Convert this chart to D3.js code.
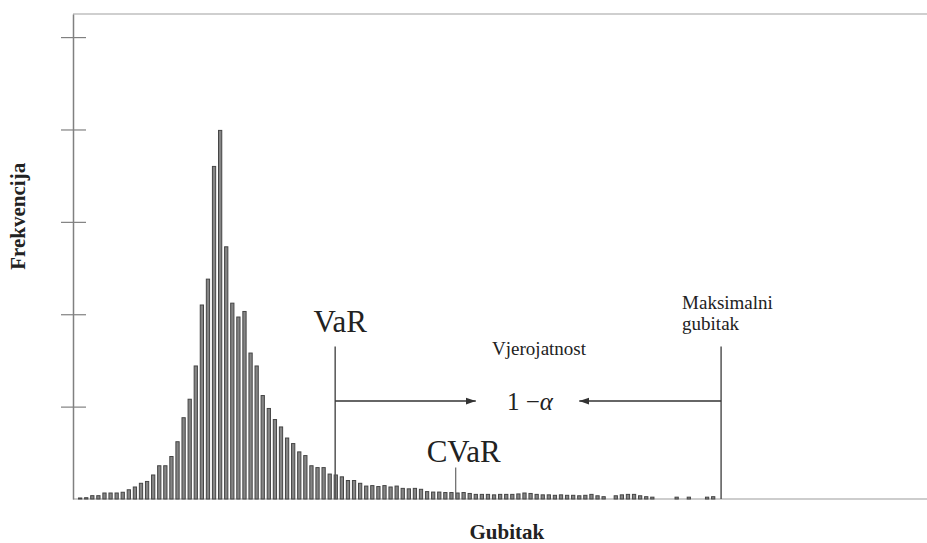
<!DOCTYPE html>
<html>
<head>
<meta charset="utf-8">
<script src="https://cdn.jsdelivr.net/npm/d3@7/dist/d3.min.js"></script>
<style>
  html, body { margin: 0; padding: 0; background: #fff; }
  .chart-text { font-family: "Liberation Serif", "Times New Roman", serif; fill: #222; }
</style>
</head>
<body>
<div id="loss-histogram"></div>
<script>
// histogram bins (loss classes), left to right
const bins = d3.range(106);

// frequency per bin
const frequency = [
  1.1, 1.4, 3.6, 3.6, 6.5, 6.5, 6.5, 7.3, 10, 13,
  17, 19, 26, 36, 36, 46, 62, 88, 108, 144,
  210, 238, 360, 399, 273, 212, 197, 203, 158, 144,
  112, 98, 86, 78, 66, 60, 51, 47, 36, 34,
  34, 27, 26, 24, 20, 20, 17, 14, 14.5, 13.5,
  14.5, 13, 14, 11.5, 11, 11.5, 10.5, 8, 7.5, 7.5,
  7, 7, 6.5, 7, 6, 5, 5, 5, 4.5, 5,
  5, 5, 5.5, 6.5, 6, 5, 4.5, 4.5, 4, 4.5,
  4, 4, 3.5, 4, 5, 3.5, 2.5, 0, 3.5, 4.5,
  5, 5, 3.5, 2.5, 2, 0, 0, 0, 2, 0,
  2, 0, 0, 2, 2.5, 0
];

const yTicks = [100, 200, 300, 400, 500];
const yMax = 525;

// annotation positions, in bin units / frequency units
const varBin = 41.9;
const cvarBin = 61.7;
const maxBin = 105.3;
const markerTop = 165;
const arrowLevel = 106;
const cvarTop = 34;

const xTitle = "Gubitak";
const yTitle = "Frekvencija";
const probLabel = "Vjerojatnost";
const maxLabel = ["Maksimalni", "gubitak"];

(function () {
  const totalWidth = 927;
  const totalHeight = 543;
  const margin = { top: 14, right: 0, bottom: 44, left: 73 };
  const width = totalWidth - margin.left - margin.right;
  const height = totalHeight - margin.top - margin.bottom;

  const svg = d3
    .select("#loss-histogram")
    .append("svg")
    .attr("width", totalWidth)
    .attr("height", totalHeight)
    .append("g")
    .attr("transform", `translate(${margin.left},${margin.top})`);

  // scales
  const x = d3.scaleBand().domain(bins).range([5, 648.4]).paddingInner(0.3).paddingOuter(0);
  const y = d3.scaleLinear().domain([0, yMax]).range([height, 0]);

  // centre of a (possibly fractional) bin
  const xc = (b) => x(0) + x.step() * b + x.bandwidth() / 2;

  // arrow heads
  const defs = svg.append("defs");
  defs
    .append("marker")
    .attr("id", "arrow-head")
    .attr("viewBox", "0 -4 10 8")
    .attr("refX", 10)
    .attr("refY", 0)
    .attr("markerUnits", "userSpaceOnUse")
    .attr("markerWidth", 10)
    .attr("markerHeight", 8)
    .attr("orient", "auto")
    .append("path")
    .attr("d", "M0,-3.5L10,0L0,3.5Z")
    .attr("fill", "#333");

  // top frame line
  svg
    .append("line")
    .attr("x1", 0)
    .attr("x2", width)
    .attr("y1", y(yMax))
    .attr("y2", y(yMax))
    .attr("stroke", "#cfcfcf")
    .attr("stroke-width", 2);

  // baseline
  svg
    .append("line")
    .attr("x1", 0)
    .attr("x2", width)
    .attr("y1", y(0))
    .attr("y2", y(0))
    .attr("stroke", "#bdbdbd")
    .attr("stroke-width", 1.5);

  // bars
  svg
    .selectAll(".bar")
    .data(frequency)
    .enter()
    .append("rect")
    .attr("class", "bar")
    .attr("x", (d, i) => x(i) + 0.5)
    .attr("y", (d) => y(d))
    .attr("width", x.bandwidth() - 1)
    .attr("height", (d) => y(0) - y(d))
    .attr("fill", "#858585")
    .attr("stroke", "#454545")
    .attr("stroke-width", 1);

  // y axis, ticks cross the axis line
  const yAxisGroup = svg
    .append("g")
    .call(d3.axisLeft(y).tickValues(yTicks).tickFormat("").tickSizeInner(12).tickSizeOuter(0));
  yAxisGroup.select(".domain").attr("stroke", "#808080").attr("stroke-width", 1.5);
  yAxisGroup.selectAll(".tick line").attr("x1", 13).attr("stroke", "#808080").attr("stroke-width", 1.2);

  // axis titles
  svg
    .append("text")
    .attr("class", "chart-text")
    .attr("x", xc(70.1))
    .attr("y", height + 40)
    .attr("text-anchor", "middle")
    .style("font-size", "21px")
    .style("font-weight", "bold")
    .text(xTitle);

  svg
    .append("text")
    .attr("class", "chart-text")
    .attr("transform", `translate(${-48},${y(306)}) rotate(-90)`)
    .attr("text-anchor", "middle")
    .style("font-size", "21px")
    .style("font-weight", "bold")
    .text(yTitle);

  // VaR / max-loss verticals
  [varBin, maxBin].forEach((b) => {
    svg
      .append("line")
      .attr("x1", xc(b))
      .attr("x2", xc(b))
      .attr("y1", y(markerTop))
      .attr("y2", y(0))
      .attr("stroke", "#555")
      .attr("stroke-width", 1.5);
  });

  // CVaR marker
  svg
    .append("line")
    .attr("x1", xc(cvarBin))
    .attr("x2", xc(cvarBin))
    .attr("y1", y(cvarTop))
    .attr("y2", y(0))
    .attr("stroke", "#666")
    .attr("stroke-width", 1.2);

  // arrows towards 1 - alpha
  svg
    .append("line")
    .attr("x1", xc(varBin))
    .attr("x2", xc(65))
    .attr("y1", y(arrowLevel))
    .attr("y2", y(arrowLevel))
    .attr("stroke", "#333")
    .attr("stroke-width", 1.5)
    .attr("marker-end", "url(#arrow-head)");

  svg
    .append("line")
    .attr("x1", xc(maxBin))
    .attr("x2", xc(82))
    .attr("y1", y(arrowLevel))
    .attr("y2", y(arrowLevel))
    .attr("stroke", "#333")
    .attr("stroke-width", 1.5)
    .attr("marker-end", "url(#arrow-head)");

  // labels
  svg
    .append("text")
    .attr("class", "chart-text")
    .attr("x", xc(varBin) + 5)
    .attr("y", y(markerTop) - 15)
    .attr("text-anchor", "middle")
    .style("font-size", "31px")
    .text("VaR");

  svg
    .append("text")
    .attr("class", "chart-text")
    .attr("x", xc(cvarBin) + 8)
    .attr("y", y(cvarTop) - 6)
    .attr("text-anchor", "middle")
    .style("font-size", "31px")
    .text("CVaR");

  svg
    .append("text")
    .attr("class", "chart-text")
    .attr("x", xc(75.4))
    .attr("y", y(markerTop) + 8)
    .attr("text-anchor", "middle")
    .style("font-size", "19px")
    .text(probLabel);

  const alphaText = svg
    .append("text")
    .attr("class", "chart-text")
    .attr("x", xc(73.9))
    .attr("y", y(arrowLevel) + 9)
    .attr("text-anchor", "middle")
    .style("font-size", "25px");
  alphaText.append("tspan").text("1 \u2212");
  alphaText.append("tspan").style("font-style", "italic").text("\u03b1");

  svg
    .append("text")
    .attr("class", "chart-text")
    .attr("x", xc(maxBin) - 39)
    .attr("y", y(markerTop) - 38)
    .style("font-size", "19px")
    .selectAll("tspan")
    .data(maxLabel)
    .enter()
    .append("tspan")
    .attr("x", xc(maxBin) - 39)
    .attr("dy", (d, i) => (i === 0 ? 0 : 21))
    .text((d) => d);
})();
</script>
</body>
</html>
